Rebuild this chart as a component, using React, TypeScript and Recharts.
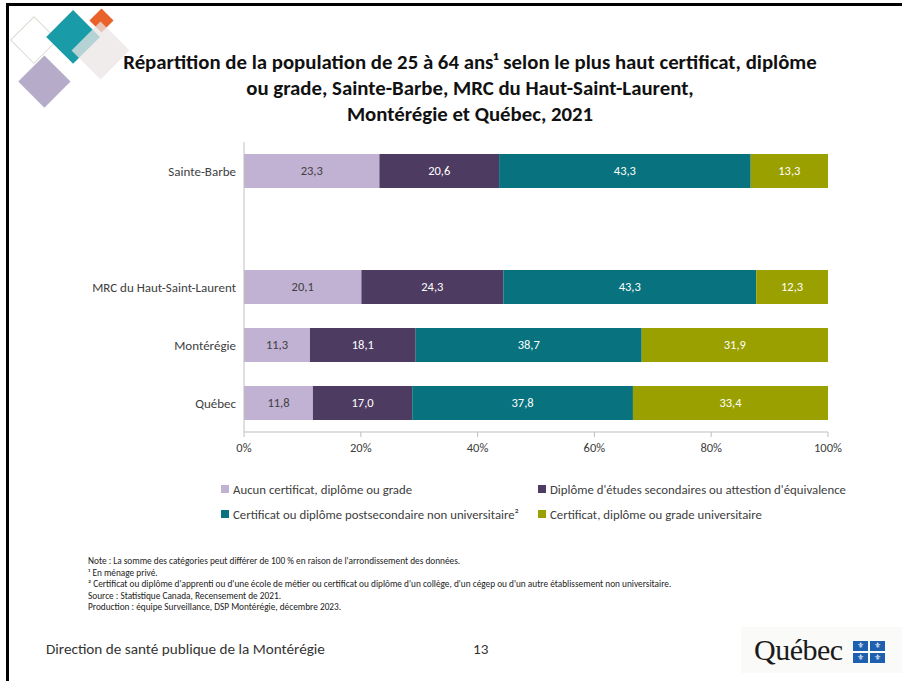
import React from 'react';
import { BarChart, Bar, XAxis, YAxis, LabelList } from 'recharts';

const categories = ['Sainte-Barbe', '', 'MRC du Haut-Saint-Laurent', 'Montérégie', 'Québec'];
const aucun = [23.3, null, 20.1, 11.3, 11.8];
const secondaire = [20.6, null, 24.3, 18.1, 17.0];
const postsec = [43.3, null, 43.3, 38.7, 37.8];
const univ = [13.3, null, 12.3, 31.9, 33.4];

const seriesKeys = ['aucun', 'secondaire', 'postsec', 'univ'];
const seriesNames = [
  'Aucun certificat, diplôme ou grade',
  "Diplôme d'études secondaires ou attestion d'équivalence",
  'Certificat ou diplôme postsecondaire non universitaire²',
  'Certificat, diplôme ou grade universitaire',
];
const seriesColors = ['#C1B1D2', '#4E3B62', '#08727E', '#9AA000'];
const labelColors = ['#404040', '#FFFFFF', '#FFFFFF', '#FFFFFF'];
const xTicks = [0, 0.2, 0.4, 0.6, 0.8, 1];

const titleLines = [
  'Répartition de la population de 25 à 64 ans¹ selon le plus haut certificat, diplôme',
  'ou grade, Sainte-Barbe, MRC du Haut-Saint-Laurent,',
  'Montérégie et Québec, 2021',
];
const notes = [
  "Note : La somme des catégories peut différer de 100 % en raison de l'arrondissement des données.",
  '¹ En ménage privé.',
  "² Certificat ou diplôme d'apprenti ou d'une école de métier ou certificat ou diplôme d'un collège, d'un cégep ou d'un autre établissement non universitaire.",
  'Source : Statistique Canada, Recensement de 2021.',
  'Production : équipe Surveillance, DSP Montérégie, décembre 2023.',
];

const data = categories.map((name, i) => ({
  name,
  aucun: aucun[i],
  secondaire: secondaire[i],
  postsec: postsec[i],
  univ: univ[i],
}));

const FONT = 'Carlito, Lato, "Open Sans", sans-serif';
const fmt = (v: any) => (v == null ? '' : Number(v).toFixed(1).replace('.', ','));

function Diamond({ cx, cy, h, color, opacity = 1, outline = false }: any) {
  const s = h * Math.SQRT2;
  return (
    <div
      style={{
        position: 'absolute',
        left: cx - s / 2,
        top: cy - s / 2,
        width: s,
        height: s,
        transform: 'rotate(45deg)',
        background: outline ? 'transparent' : color,
        border: outline ? `1.5px solid ${color}` : 'none',
        boxSizing: 'border-box',
        opacity,
      }}
    />
  );
}

export default function App() {
  return (
    <div
      style={{
        position: 'absolute',
        left: 0,
        top: 0,
        width: 902,
        height: 681,
        background: '#fff',
        overflow: 'hidden',
        fontFamily: FONT,
      }}
    >
      {/* slide frame */}
      <div style={{ position: 'absolute', left: 6, top: 3, right: -10, bottom: -10, borderTop: '3px solid #000', borderLeft: '3px solid #000' }} />

      {/* logo */}
      <Diamond cx={34} cy={40} h={24} color="#D9DDD2" outline />
      <Diamond cx={44} cy={81} h={26} color="#B6ACCA" />
      <Diamond cx={73} cy={37} h={27} color="#1A9BA8" />
      <Diamond cx={101} cy={20} h={12} color="#E8622A" />
      <Diamond cx={101} cy={51} h={29} color="#E9E6E4" opacity={0.75} />

      {/* title */}
      <div
        style={{
          position: 'absolute',
          left: 60,
          width: 820,
          top: 49,
          textAlign: 'center',
          fontWeight: 700,
          fontSize: 20.8,
          lineHeight: '26px',
          color: '#111',
          whiteSpace: 'nowrap',
        }}
      >
        {titleLines.map((t, i) => (
          <div key={i}>{t}</div>
        ))}
      </div>

      {/* chart */}
      <div style={{ position: 'absolute', left: 0, top: 130 }}>
        <BarChart
          width={860}
          height={336}
          data={data}
          layout="vertical"
          stackOffset="expand"
          margin={{ top: 12, right: 32, bottom: 0, left: 0 }}
          barSize={34}
        >
          <XAxis
            type="number"
            domain={[0, 1]}
            ticks={xTicks}
            tickFormatter={(v: number) => Math.round(v * 100) + '%'}
            stroke="#BFBFBF"
            tickSize={5}
            tickMargin={6}
            tick={{ fill: '#404040', fontSize: 12.5, fontFamily: FONT }}
            height={34}
          />
          <YAxis
            type="category"
            dataKey="name"
            width={244}
            stroke="#BFBFBF"
            tickLine={false}
            tick={{ fill: '#404040', fontSize: 13, fontFamily: FONT }}
          />
          {seriesKeys.map((k, i) => (
            <Bar key={k} dataKey={k} name={seriesNames[i]} stackId="a" fill={seriesColors[i]} isAnimationActive={false}>
              <LabelList
                dataKey={k}
                position="center"
                formatter={fmt}
                style={{ fill: labelColors[i], fontSize: 12.5, fontFamily: FONT }}
              />
            </Bar>
          ))}
        </BarChart>
      </div>

      {/* legend */}
      {seriesNames.map((n, i) => {
        const col = i % 2;
        const row = Math.floor(i / 2);
        return (
          <div
            key={n}
            style={{
              position: 'absolute',
              left: col === 0 ? 221 : 538,
              top: 481 + row * 25,
              height: 16,
              display: 'flex',
              alignItems: 'center',
              fontSize: 12.8,
              color: '#404040',
              whiteSpace: 'nowrap',
            }}
          >
            <span style={{ display: 'inline-block', width: 8, height: 8, background: seriesColors[i], marginRight: 4 }} />
            {n}
          </div>
        );
      })}

      {/* notes */}
      <div style={{ position: 'absolute', left: 88, top: 555, fontSize: 9.3, lineHeight: '11.6px', color: '#222', whiteSpace: 'nowrap' }}>
        {notes.map((t, i) => (
          <div key={i}>{t}</div>
        ))}
      </div>

      {/* footer */}
      <div style={{ position: 'absolute', left: 46, top: 640, fontSize: 15.2, color: '#333', whiteSpace: 'nowrap' }}>
        Direction de santé publique de la Montérégie
      </div>
      <div style={{ position: 'absolute', left: 473, top: 640, fontSize: 15.2, color: '#333' }}>13</div>

      {/* Québec signature */}
      <div style={{ position: 'absolute', left: 741, top: 627, width: 161, height: 46, background: '#FAFAF8' }} />
      <div
        style={{
          position: 'absolute',
          left: 754,
          top: 632,
          fontFamily: '"Liberation Serif", "DejaVu Serif", serif',
          fontSize: 30,
          lineHeight: '36px',
          color: '#1a1a1a',
          letterSpacing: -0.5,
        }}
      >
        Québec
      </div>
      {[0, 1, 2, 3].map((q) => (
        <div
          key={q}
          style={{
            position: 'absolute',
            left: 853 + (q % 2) * 17,
            top: 641 + Math.floor(q / 2) * 12,
            width: 15,
            height: 10,
            background: '#1E5FAF',
            color: '#fff',
            fontSize: 8,
            lineHeight: '10px',
            textAlign: 'center',
            fontFamily: '"DejaVu Sans", sans-serif',
          }}
        >
          ⚜
        </div>
      ))}
    </div>
  );
}
